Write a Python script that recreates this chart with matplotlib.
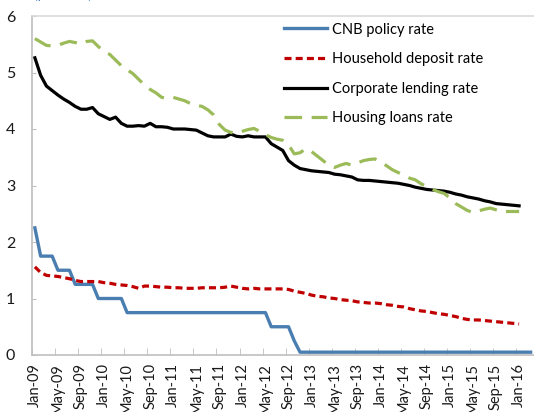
import numpy as np
import matplotlib
matplotlib.use('Agg')
import matplotlib.pyplot as plt
from matplotlib.ticker import FixedLocator

plt.rcParams['font.family'] = ['Lato', 'DejaVu Sans']

# ---------- Data (monthly, Jan-09 ... ) ----------
policy_rate = [2.25, 1.75, 1.75, 1.75, 1.5, 1.5, 1.5, 1.25, 1.25, 1.25,
               1.25, 1.0, 1.0, 1.0, 1.0, 1.0] + [0.75] * 25 + \
              [0.5, 0.5, 0.5, 0.5, 0.25] + [0.05] * 41

deposit_rate = [1.56, 1.46, 1.41, 1.40, 1.39, 1.37, 1.35, 1.32, 1.30, 1.30,
                1.30, 1.30, 1.28, 1.27, 1.25, 1.24, 1.23, 1.21, 1.18, 1.22,
                1.22, 1.21, 1.20, 1.20, 1.19, 1.19, 1.18, 1.18, 1.18, 1.19,
                1.19, 1.19, 1.19, 1.20, 1.22, 1.20, 1.18, 1.17, 1.18, 1.17,
                1.17, 1.17, 1.17, 1.17, 1.16, 1.13, 1.11, 1.09, 1.06, 1.04,
                1.03, 1.01, 1.00, 0.98, 0.97, 0.96, 0.94, 0.93, 0.92, 0.92,
                0.91, 0.89, 0.88, 0.86, 0.85, 0.82, 0.80, 0.78, 0.77, 0.75,
                0.73, 0.72, 0.70, 0.68, 0.65, 0.63, 0.62, 0.62, 0.61, 0.60,
                0.59, 0.58, 0.57, 0.56, 0.55]

corporate_rate = [5.26, 4.95, 4.76, 4.68, 4.60, 4.53, 4.47, 4.40, 4.35, 4.35,
                  4.38, 4.27, 4.22, 4.17, 4.21, 4.10, 4.05, 4.05, 4.06, 4.05,
                  4.10, 4.04, 4.04, 4.03, 4.00, 4.00, 4.00, 3.99, 3.98, 3.93,
                  3.88, 3.86, 3.86, 3.86, 3.91, 3.87, 3.86, 3.88, 3.86, 3.86,
                  3.86, 3.74, 3.68, 3.62, 3.44, 3.36, 3.30, 3.28, 3.26, 3.25,
                  3.24, 3.23, 3.20, 3.19, 3.17, 3.15, 3.10, 3.09, 3.09, 3.08,
                  3.07, 3.06, 3.05, 3.04, 3.02, 3.00, 2.97, 2.95, 2.93, 2.92,
                  2.91, 2.90, 2.88, 2.85, 2.83, 2.80, 2.78, 2.76, 2.73, 2.71,
                  2.68, 2.67, 2.66, 2.65, 2.64]

housing_rate = [5.60, 5.54, 5.48, 5.47, 5.48, 5.52, 5.55, 5.53, 5.50, 5.55,
                5.56, 5.46, 5.37, 5.32, 5.22, 5.12, 5.05, 4.98, 4.88, 4.78,
                4.70, 4.64, 4.56, 4.54, 4.56, 4.53, 4.50, 4.45, 4.42, 4.40,
                4.34, 4.25, 4.08, 3.98, 3.94, 3.92, 3.96, 3.99, 4.01, 3.96,
                3.90, 3.85, 3.82, 3.80, 3.72, 3.56, 3.58, 3.65, 3.60, 3.52,
                3.44, 3.36, 3.32, 3.36, 3.39, 3.36, 3.40, 3.44, 3.46, 3.47,
                3.42, 3.35, 3.28, 3.23, 3.18, 3.13, 3.10, 3.03, 2.98, 2.93,
                2.89, 2.86, 2.78, 2.68, 2.62, 2.56, 2.52, 2.55, 2.58, 2.60,
                2.57, 2.53, 2.54, 2.54, 2.54]

tick_labels = ['Jan-09', 'May-09', 'Sep-09', 'Jan-10', 'May-10', 'Sep-10',
               'Jan-11', 'May-11', 'Sep-11', 'Jan-12', 'May-12', 'Sep-12',
               'Jan-13', 'May-13', 'Sep-13', 'Jan-14', 'May-14', 'Sep-14',
               'Jan-15', 'May-15', 'Sep-15', 'Jan-16']
n_months = len(policy_rate)

# ---------- Figure ----------
fig = plt.figure(figsize=(5.34, 4.12), dpi=100)
ax = fig.add_axes([32 / 534, 57 / 412, 501.5 / 534, 339 / 412])

ax.plot(np.arange(len(policy_rate)), policy_rate, color='#4A7EB0', lw=2.4,
        label='CNB policy rate')
ax.plot(np.arange(len(deposit_rate)), deposit_rate, color='#C00000', lw=2.3,
        dashes=(2.2, 1.3), label='Household deposit rate')
ax.plot(np.arange(len(corporate_rate)), corporate_rate, color='black', lw=2.3,
        label='Corporate lending rate')
ax.plot(np.arange(len(housing_rate)), housing_rate, color='#9BBB59', lw=2.3,
        dashes=(5.5, 3.0), label='Housing loans rate')

ax.set_xlim(-0.5, n_months - 0.5)
ax.set_ylim(0, 6)
ax.set_yticks(range(0, 7))
ax.tick_params(axis='y', direction='in', length=3, color='#BFBFBF',
               labelsize=11.5, pad=12, labelcolor='#1A1A1A')

ax.set_xticks(np.arange(0, 4 * len(tick_labels), 4))
ax.set_xticklabels(tick_labels, rotation=90, fontsize=10.5, color='#1A1A1A')
ax.tick_params(axis='x', which='major', length=0, pad=6)
ax.xaxis.set_minor_locator(FixedLocator(np.arange(-0.5, n_months, 4)))
ax.tick_params(axis='x', which='minor', direction='in', length=5,
               color='#BFBFBF')

for side in ['left', 'bottom']:
    ax.spines[side].set_color('#BFBFBF')
    ax.spines[side].set_linewidth(1.2)
ax.spines['top'].set_color('#D9D9D9')
ax.spines['top'].set_linewidth(1.2)
ax.spines['right'].set_visible(False)

ax.legend(loc='upper left', bbox_to_anchor=(0.49, 0.998), frameon=False,
          fontsize=10.5, handlelength=3.0, handletextpad=0.3,
          labelspacing=1.07, borderaxespad=0)

fig.text(34 / 534, 1 + 1 / 412, '(per cent)', color='#4F81BD', fontsize=10,
         va='baseline', ha='left')

fig.savefig('out.png', dpi=100, facecolor='white')
